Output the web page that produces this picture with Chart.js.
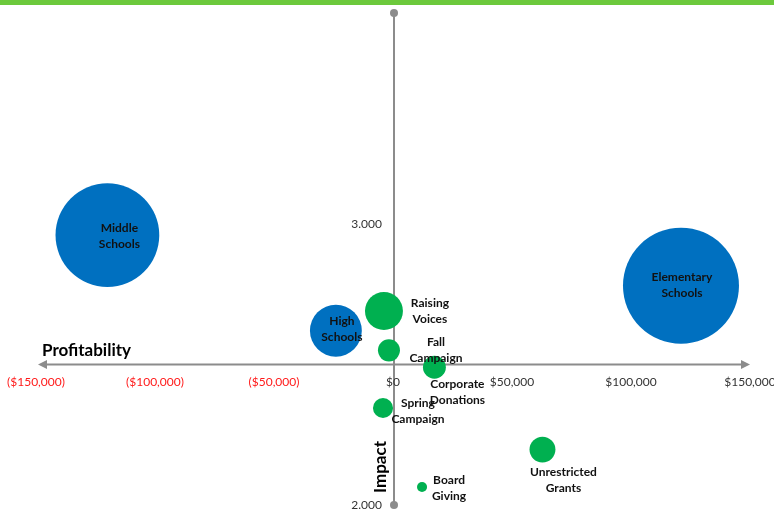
<!DOCTYPE html>
<html>
<head>
<meta charset="utf-8">
<script src="https://cdn.jsdelivr.net/npm/chart.js@4.4.1/dist/chart.umd.min.js"></script>
<style>
  html, body { margin: 0; padding: 0; background: #fff; }
  #wrap { position: relative; width: 774px; height: 514px; }
</style>
</head>
<body>
<div id="wrap"><canvas id="bubble-chart"></canvas></div>
<script>
// Programs (blue) and fundraising (green): profitability vs impact, bubble area = size
const programNames = [["Middle", "Schools"], ["Elementary", "Schools"], ["High", "Schools"]];
const programProfit = [-120000, 121000, -24000];
const programImpact = [2.96, 2.78, 2.62];
const programSize = [8000, 10000, 2000];

const fundNames = [["Raising", "Voices"], ["Fall", "Campaign"], ["Corporate", "Donations"],
  ["Spring", "Campaign"], ["Unrestricted", "Grants"], ["Board", "Giving"]];
const fundProfit = [-3800, -1700, 17400, -4200, 62800, 12200];
const fundImpact = [2.69, 2.55, 2.49, 2.345, 2.197, 2.064];
const fundSize = [1070, 360, 390, 300, 500, 75];

const profitTicks = [-150000, -100000, -50000, 0, 50000, 100000, 150000];
const impactTicks = [2, 3];
const impactCross = 2.5;

// label offsets from the bubble centre, in px
const programLabelPos = [[12, 1], [1, -1], [6, -2]];
const fundLabelPos = [[46, 0], [47, 0], [23, 25], [35, 3], [21, 31], [27, 1]];

const FONT = "Lato, 'Open Sans', sans-serif";
const AXIS_GREY = "#8c8c8c";

function radius(size) {
  return 0.58 * Math.sqrt(size);
}

function money(v) {
  const s = "$" + Math.abs(v).toLocaleString("en-US");
  return v < 0 ? "(" + s + ")" : s;
}

function points(xs, ys, sizes) {
  return xs.map((x, i) => ({ x: x, y: ys[i], r: radius(sizes[i]) }));
}

const quadrantAxes = {
  id: "quadrantAxes",
  beforeDraw(chart) {
    const ctx = chart.ctx;
    ctx.save();
    ctx.fillStyle = "#6cc93c";
    ctx.fillRect(0, 0, chart.width, 5);
    ctx.restore();
  },
  beforeDatasetsDraw(chart) {
    const { ctx, scales: { x, y } } = chart;
    const x0 = x.getPixelForValue(0) + 1;
    const yc = y.getPixelForValue(impactCross);
    const xl = x.getPixelForValue(x.min) + 2;
    const xr = x.getPixelForValue(x.max);
    const yt = y.getPixelForValue(y.max);
    const yb = y.getPixelForValue(y.min);

    ctx.save();
    ctx.strokeStyle = AXIS_GREY;
    ctx.fillStyle = AXIS_GREY;
    ctx.lineWidth = 2;

    // vertical axis with round ends
    ctx.beginPath();
    ctx.moveTo(x0, yt);
    ctx.lineTo(x0, yb);
    ctx.stroke();
    [yt, yb].forEach(py => {
      ctx.beginPath();
      ctx.arc(x0, py, 4, 0, Math.PI * 2);
      ctx.fill();
    });

    // horizontal axis with arrow heads
    ctx.beginPath();
    ctx.moveTo(xl + 6, yc);
    ctx.lineTo(xr - 6, yc);
    ctx.stroke();
    ctx.beginPath();
    ctx.moveTo(xl, yc);
    ctx.lineTo(xl + 9, yc - 4.5);
    ctx.lineTo(xl + 9, yc + 4.5);
    ctx.closePath();
    ctx.fill();
    ctx.beginPath();
    ctx.moveTo(xr, yc);
    ctx.lineTo(xr - 9, yc - 4.5);
    ctx.lineTo(xr - 9, yc + 4.5);
    ctx.closePath();
    ctx.fill();

    // tick labels
    ctx.font = "12px " + FONT;
    ctx.textAlign = "center";
    ctx.textBaseline = "middle";
    profitTicks.forEach(v => {
      ctx.fillStyle = v < 0 ? "#ff1a1a" : "#333333";
      ctx.fillText(money(v), x.getPixelForValue(v), yc + 18);
    });
    ctx.fillStyle = "#333333";
    ctx.textAlign = "right";
    impactTicks.forEach(v => {
      ctx.fillText(v.toFixed(3), x0 - 12, y.getPixelForValue(v));
    });

    // axis titles
    ctx.fillStyle = "#000";
    ctx.font = "bold 17px " + FONT;
    ctx.textAlign = "left";
    ctx.fillText("Profitability", xl + 4, yc - 14);
    ctx.save();
    ctx.translate(x0 - 13, yb - 38);
    ctx.rotate(-Math.PI / 2);
    ctx.textAlign = "center";
    ctx.fillText("Impact", 0, 0);
    ctx.restore();
    ctx.restore();
  },
  afterDatasetsDraw(chart) {
    const ctx = chart.ctx;
    ctx.save();
    ctx.font = "bold 12px " + FONT;
    ctx.fillStyle = "#111";
    ctx.textAlign = "center";
    ctx.textBaseline = "middle";
    chart.data.datasets.forEach((ds, di) => {
      chart.getDatasetMeta(di).data.forEach((el, i) => {
        const [dx, dy] = ds.labelPos[i];
        const lines = ds.names[i];
        lines.forEach((t, li) => {
          ctx.fillText(t, el.x + dx, el.y + dy + (li - (lines.length - 1) / 2) * 16);
        });
      });
    });
    ctx.restore();
  }
};

new Chart(document.getElementById("bubble-chart"), {
  type: "bubble",
  data: {
    datasets: [
      {
        label: "Programs",
        data: points(programProfit, programImpact, programSize),
        names: programNames,
        labelPos: programLabelPos,
        backgroundColor: "#0070c0",
        borderWidth: 0,
        clip: false,
      },
      {
        label: "Fundraising",
        data: points(fundProfit, fundImpact, fundSize),
        names: fundNames,
        labelPos: fundLabelPos,
        backgroundColor: "#00b050",
        borderWidth: 0,
        clip: false,
      },
    ],
  },
  options: {
    responsive: true,
    maintainAspectRatio: false,
    animation: false,
    layout: { autoPadding: false, padding: { left: 36, right: 24, top: 13, bottom: 9 } },
    plugins: {
      legend: { display: false },
      tooltip: { enabled: false },
    },
    scales: {
      x: { type: "linear", min: -150000, max: 150000, display: false },
      y: { type: "linear", min: 2, max: 3.75, display: false },
    },
  },
  plugins: [quadrantAxes],
});
</script>
</body>
</html>
